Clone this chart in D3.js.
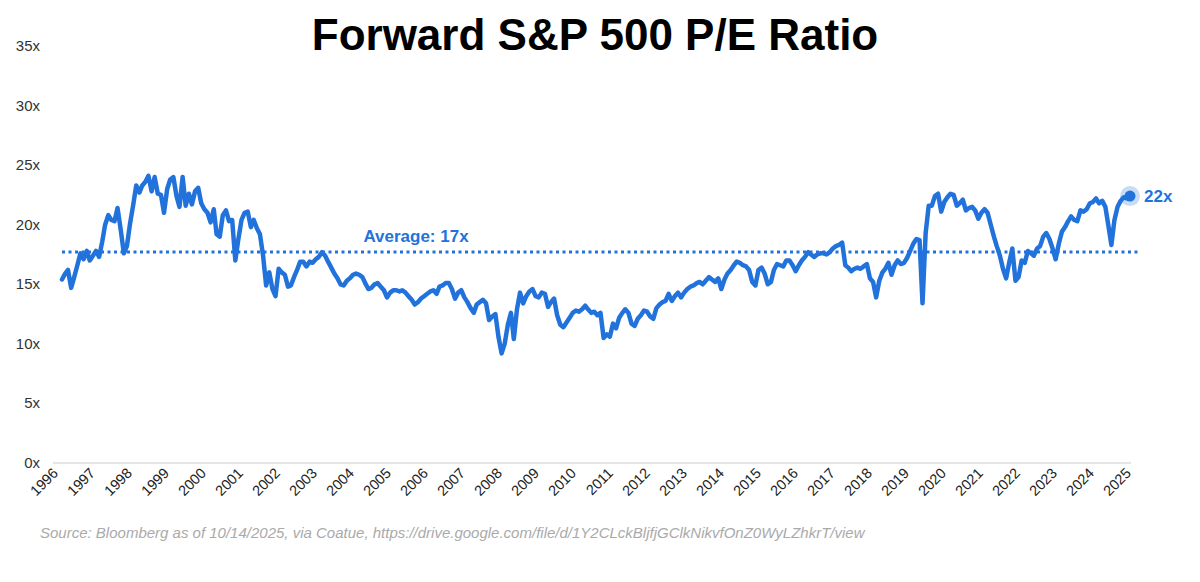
<!DOCTYPE html>
<html>
<head>
<meta charset="utf-8">
<script src="https://cdn.jsdelivr.net/npm/d3@7"></script>
<style>
  body { margin: 0; background: #fff; }
  svg { font-family: "Liberation Sans", Arial, Helvetica, sans-serif; }
  .tick-y { font-size: 15px; fill: #333; }
  .tick-x { font-size: 14.5px; fill: #222; }
</style>
</head>
<body>
<div id="viz"></div>
<script>
// monthly forward P/E, first value is Jan 1997, last is Oct 2025
var firstMonth = "1997-01";
var peMonthly = [
  15.4, 15.9, 16.2, 14.7, 15.6, 16.6, 17.6, 17.1, 17.8, 17.0, 17.4, 17.8, // 1997
  17.3, 18.6, 20.0, 20.8, 20.4, 20.3, 21.4, 19.6, 17.6, 18.2, 20.1, 21.6, // 1998
  23.3, 22.7, 23.3, 23.6, 24.1, 22.8, 24.0, 22.6, 22.5, 21.0, 23.0, 23.8, // 1999
  24.0, 22.4, 21.5, 24.0, 21.6, 22.6, 21.7, 22.8, 23.1, 21.8, 21.3, 21.0, // 2000
  20.2, 21.3, 19.2, 19.0, 20.8, 21.2, 20.3, 20.4, 17.0, 18.8, 20.4, 21.0, // 2001
  21.1, 19.8, 20.4, 19.7, 19.2, 17.4, 14.9, 16.0, 14.6, 14.0, 16.3, 16.0, // 2002
  15.8, 14.8, 14.9, 15.6, 16.2, 16.9, 16.9, 16.5, 16.9, 16.8, 17.1, 17.3, // 2003
  17.7, 17.4, 16.9, 16.4, 15.9, 15.5, 15.0, 14.9, 15.3, 15.5, 15.8, 15.9, // 2004
  15.8, 15.6, 15.1, 14.6, 14.7, 15.0, 15.1, 14.8, 14.5, 13.9, 14.3, 14.5, // 2005
  14.5, 14.4, 14.5, 14.3, 14.0, 13.7, 13.3, 13.5, 13.8, 14.0, 14.2, 14.4, // 2006
  14.5, 14.2, 14.8, 14.9, 15.1, 15.1, 14.6, 13.8, 14.3, 14.5, 13.9, 13.5, // 2007
  13.0, 12.6, 13.3, 13.5, 13.7, 13.4, 12.0, 12.3, 12.5, 10.6, 9.2, 10.0,  // 2008
  11.6, 12.6, 10.4, 12.9, 14.3, 13.4, 14.0, 14.4, 14.6, 14.0, 13.9, 14.3, // 2009
  14.2, 13.1, 13.5, 13.8, 12.4, 11.6, 11.4, 11.8, 12.2, 12.6, 12.8, 12.7, // 2010
  12.9, 13.2, 12.9, 12.6, 12.7, 12.4, 12.6, 10.5, 10.8, 10.6, 11.7, 11.3, // 2011
  12.2, 12.6, 12.9, 12.6, 11.7, 11.5, 12.1, 12.4, 12.8, 12.7, 12.3, 12.1, // 2012
  13.0, 13.3, 13.5, 13.6, 14.2, 13.6, 14.0, 14.3, 13.9, 14.3, 14.6, 14.8, // 2013
  14.9, 15.1, 15.2, 15.0, 15.3, 15.6, 15.4, 15.2, 15.5, 14.6, 15.4, 15.9, // 2014
  16.2, 16.6, 16.9, 16.8, 16.6, 16.5, 16.2, 15.2, 14.9, 16.2, 16.4, 15.9, // 2015
  15.0, 15.2, 16.2, 16.7, 16.6, 16.5, 17.0, 17.0, 16.6, 16.1, 16.6, 17.0, // 2016
  17.3, 17.7, 17.5, 17.3, 17.5, 17.6, 17.6, 17.5, 17.7, 18.0, 18.2, 18.3, // 2017
  18.5, 16.6, 16.4, 16.1, 16.3, 16.4, 16.3, 16.5, 16.7, 15.5, 15.2, 13.9, // 2018
  15.3, 16.0, 16.3, 16.8, 15.8, 16.6, 17.0, 16.7, 16.8, 17.2, 17.8, 18.4, // 2019
  18.8, 18.7, 13.4, 19.3, 21.6, 21.6, 22.4, 22.6, 21.1, 21.9, 22.3, 22.6, // 2020
  22.5, 21.6, 21.8, 22.1, 21.2, 21.4, 21.5, 21.2, 20.5, 21.0, 21.3, 21.0, // 2021
  20.0, 19.0, 18.2, 17.4, 16.3, 15.5, 16.8, 18.0, 15.3, 15.6, 17.0, 16.8, // 2022
  17.8, 17.6, 17.4, 18.0, 18.2, 19.0, 19.3, 18.8, 18.0, 17.1, 18.4, 19.4, // 2023
  19.8, 20.3, 20.7, 20.4, 20.3, 21.2, 21.1, 21.3, 21.8, 21.9, 22.2, 21.8, // 2024
  22.0, 21.5, 20.0, 18.3, 20.4, 21.5, 22.0, 22.3, 22.2, 22.4              // 2025
];
var averagePE = 17.7;
var averageLabel = "Average: 17x";
var lastLabel = "22x";
var yTicks = [0, 5, 10, 15, 20, 25, 30, 35];
var xLabels = d3.range(1996, 2026);

var blue = "#2272dc";
var width = 1200, height = 582;

var parseMonth = d3.timeParse("%Y-%m");
var start = parseMonth(firstMonth);
var data = peMonthly.map(function(v, i) {
  return { date: d3.timeMonth.offset(start, i), pe: v };
});
var last = data[data.length - 1];

var svg = d3.select("#viz").append("svg")
  .attr("width", width)
  .attr("height", height);

var x = d3.scaleTime()
  .domain([start, last.date])
  .range([62, 1130]);

var y = d3.scaleLinear()
  .domain([0, 35])
  .range([463, 46]);

// year labels are spaced evenly along the axis
var xl = d3.scalePoint()
  .domain(xLabels)
  .range([57, 1130]);

svg.append("text")
  .attr("x", 595)
  .attr("y", 50)
  .attr("text-anchor", "middle")
  .style("font-size", "44px")
  .style("font-weight", "bold")
  .style("fill", "#000")
  .text("Forward S&P 500 P/E Ratio");

// y labels
svg.selectAll(".tick-y")
  .data(yTicks)
  .enter().append("text")
  .attr("class", "tick-y")
  .attr("x", 40)
  .attr("y", function(d) { return y(d) + 5; })
  .attr("text-anchor", "end")
  .text(function(d) { return d + "x"; });

// baseline
svg.append("line")
  .attr("x1", 53).attr("x2", 1131)
  .attr("y1", y(0)).attr("y2", y(0))
  .attr("stroke", "#ddd")
  .attr("stroke-width", 1.5);

// x labels, rotated
svg.selectAll(".tick-x")
  .data(xLabels)
  .enter().append("text")
  .attr("class", "tick-x")
  .attr("text-anchor", "end")
  .attr("transform", function(d) {
    return "translate(" + (xl(d) + 2) + "," + 474 + ") rotate(-45)";
  })
  .text(function(d) { return d; });

// average line
svg.append("line")
  .attr("x1", 62).attr("x2", 1141)
  .attr("y1", y(averagePE)).attr("y2", y(averagePE))
  .attr("stroke", blue)
  .attr("stroke-width", 3)
  .attr("stroke-dasharray", "3,3.5");

svg.append("text")
  .attr("x", 416)
  .attr("y", y(averagePE) - 10)
  .attr("text-anchor", "middle")
  .style("font-size", "17px")
  .style("font-weight", "bold")
  .style("fill", blue)
  .text(averageLabel);

var line = d3.line()
  .x(function(d) { return x(d.date); })
  .y(function(d) { return y(d.pe); });

svg.append("path")
  .datum(data)
  .attr("d", line)
  .attr("fill", "none")
  .attr("stroke", blue)
  .attr("stroke-width", 4.5)
  .attr("stroke-linejoin", "round")
  .attr("stroke-linecap", "round");

// end marker
svg.append("circle")
  .attr("cx", x(last.date)).attr("cy", y(last.pe))
  .attr("r", 10)
  .attr("fill", blue)
  .attr("fill-opacity", 0.25);
svg.append("circle")
  .attr("cx", x(last.date)).attr("cy", y(last.pe))
  .attr("r", 5.5)
  .attr("fill", blue);

svg.append("text")
  .attr("x", x(last.date) + 14)
  .attr("y", y(last.pe) + 6)
  .style("font-size", "17px")
  .style("font-weight", "bold")
  .style("fill", blue)
  .text(lastLabel);

svg.append("text")
  .attr("x", 40)
  .attr("y", 538)
  .style("font-size", "15px")
  .style("font-style", "italic")
  .style("fill", "#aaa")
  .text("Source: Bloomberg as of 10/14/2025, via Coatue, https://drive.google.com/file/d/1Y2CLckBljfjGClkNikvfOnZ0WyLZhkrT/view");
</script>
</body>
</html>
